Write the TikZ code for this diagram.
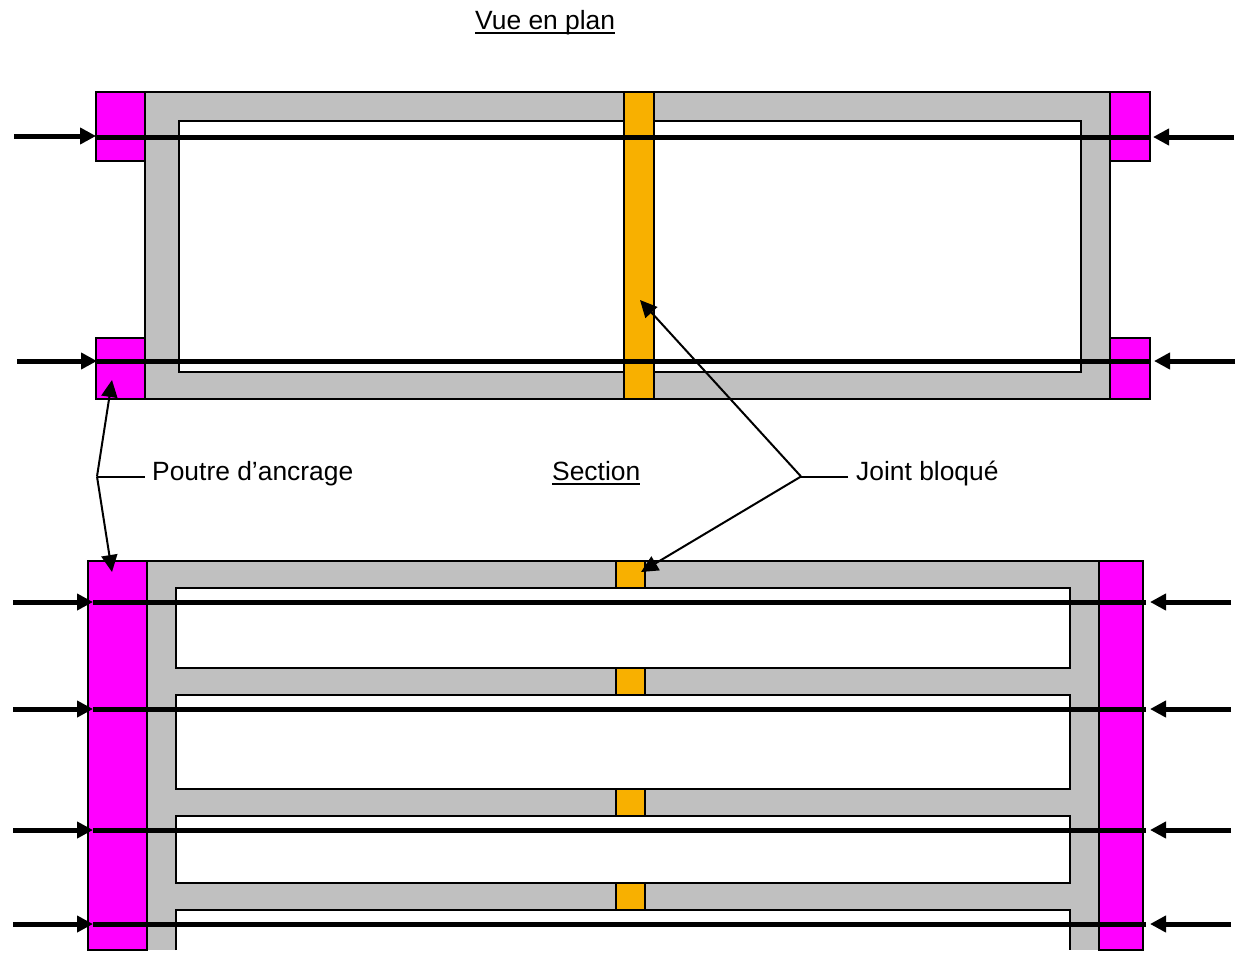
\documentclass[tikz,border=0pt]{standalone}
\usepackage{fontspec}
\setmainfont{Liberation Sans}
\usetikzlibrary{arrows.meta}
\definecolor{beam}{RGB}{192,192,192}
\definecolor{anchorbeam}{RGB}{255,0,255}
\definecolor{jointfill}{RGB}{248,176,0}
\newcommand{\ulined}[1]{\setbox0=\hbox{#1}\dp0=0pt\vtop{\box0\kern3pt\hrule height 1.8pt}}
\begin{document}
\begin{tikzpicture}[x=1pt,y=-1pt,
  edge/.style={draw=black,line width=2pt,line join=miter},
  concrete/.style={edge,fill=beam},
  hole/.style={edge,fill=white},
  anchorbox/.style={edge,fill=anchorbeam},
  jointbox/.style={edge,fill=jointfill},
  tendon/.style={line width=5pt,draw=black},
  force/.style={line width=5pt,draw=black,-{Triangle[length=16pt,width=16pt]}},
  leader/.style={line width=2pt,draw=black},
  pointer/.style={leader,-{Triangle[length=17pt,width=16pt]}},
  label/.style={anchor=base west,inner sep=0pt,font=\fontsize{26.4}{30}\selectfont}]
\useasboundingbox (0,0) rectangle (1242,953);
\fill[white] (0,0) rectangle (1242,953);

% plan view
\draw[concrete] (145,92) rectangle (1110,399);
\draw[hole] (179,121) rectangle (1081,372);
\draw[jointbox] (624,92) rectangle (654,399);
\draw[anchorbox] (96,92) rectangle (145,161);
\draw[anchorbox] (96,338) rectangle (145,399);
\draw[anchorbox] (1110,92) rectangle (1150,161);
\draw[anchorbox] (1110,338) rectangle (1150,399);
\draw[tendon] (96,137.5) -- (1150,137.5);
\draw[tendon] (96,361) -- (1150,361);
\draw[force] (14,136) -- (96,136);
\draw[force] (17,361) -- (97,361);
\draw[force] (1234,137) -- (1153,137);
\draw[force] (1235,361) -- (1154,361);

% section
\fill[beam] (147,561) rectangle (1099,950);
\draw[edge] (147,561) -- (1099,561);
\draw[hole] (176,588) rectangle (1070,668);
\draw[hole] (176,695) rectangle (1070,789);
\draw[hole] (176,816) rectangle (1070,883);
\fill[white] (176,910) rectangle (1070,950);
\draw[edge] (176,950) -- (176,910) -- (1070,910) -- (1070,950);
\draw[jointbox] (616,561) rectangle (645,588);
\draw[jointbox] (616,668) rectangle (645,695);
\draw[jointbox] (616,789) rectangle (645,816);
\draw[jointbox] (616,883) rectangle (645,910);
\draw[anchorbox] (88,561) rectangle (147,950);
\draw[anchorbox] (1099,561) rectangle (1143,950);
\foreach \yy in {602,709,830,924}{
  \draw[tendon] (93,\yy) -- (1146,\yy);
  \draw[force] (13,\yy) -- (93,\yy);
  \draw[force] (1231,\yy) -- (1150,\yy);
}

% texts
\node[label] (title) at (475,29) {\ulined{Vue en plan}};
\node[label] (section) at (552,480) {\ulined{Section}};
\node[label] (poutre) at (152,480) {Poutre d’ancrage};
\node[label] (joint) at (856,480) {Joint bloqué};

% leaders
\coordinate (pe) at (144.5,476.5);
\coordinate (pj) at (97,476.5);
\coordinate (pa) at (112,380);
\coordinate (pb) at (112,572);
\coordinate (je) at (848,476.5);
\coordinate (jj) at (801,476.5);
\coordinate (ja) at (640,300);
\coordinate (jb) at (641,572);
\draw[leader] (pe) -- (pj);
\draw[pointer] (pj) -- (pa);
\draw[pointer] (pj) -- (pb);
\draw[leader] (je) -- (jj);
\draw[pointer] (jj) -- (ja);
\draw[pointer] (jj) -- (jb);
\end{tikzpicture}
\end{document}
